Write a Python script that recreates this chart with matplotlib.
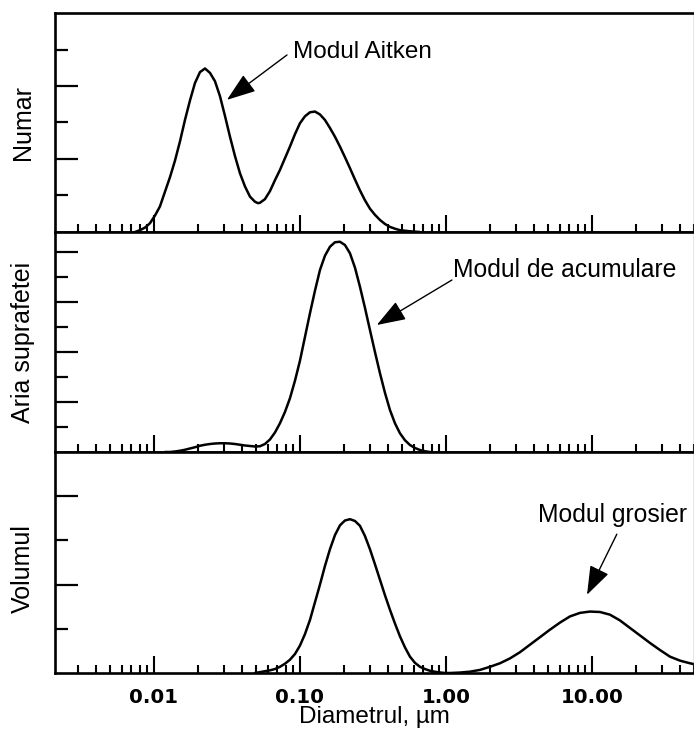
import matplotlib
matplotlib.use('Agg')
import matplotlib.pyplot as plt
from matplotlib.ticker import LogLocator, FixedLocator, FixedFormatter, NullFormatter

# ---- data (diameter in um, relative amount) ----
numar_d = [0.00741, 0.00802, 0.00868, 0.00939, 0.01016, 0.01099, 0.01189, 0.01287,
           0.01392, 0.01507, 0.01631, 0.01764, 0.01909, 0.02066, 0.02236, 0.02419,
           0.02618, 0.02833, 0.03065, 0.03317, 0.03589, 0.03882, 0.04200, 0.04545,
           0.04917, 0.05156, 0.05321, 0.05757, 0.06231, 0.06743, 0.07295, 0.07893,
           0.08541, 0.09243, 0.1, 0.1082, 0.1171, 0.1267, 0.1371, 0.1483, 0.1605,
           0.1737, 0.1879, 0.2033, 0.2200, 0.2380, 0.2576, 0.2787, 0.3016, 0.3264,
           0.3532, 0.3821, 0.4135, 0.4474, 0.4841, 0.5668, 0.6637]
numar_v = [0.0, 0.05, 0.12, 0.24, 0.45, 0.70, 1.10, 1.50, 1.95, 2.48,
           3.07, 3.60, 4.08, 4.38, 4.48, 4.36, 4.13, 3.72, 3.18, 2.61,
           2.08, 1.61, 1.25, 0.97, 0.83, 0.79,
           0.80, 0.90, 1.12, 1.42, 1.70, 2.02, 2.34, 2.68, 2.98, 3.17,
           3.28, 3.30, 3.22, 3.07, 2.85, 2.61, 2.34, 2.05, 1.75, 1.44,
           1.14, 0.87, 0.64, 0.47, 0.33, 0.22, 0.14, 0.09, 0.05, 0.02, 0.0]

aria_d = [0.01189, 0.01287, 0.01392, 0.01507, 0.01631, 0.01764, 0.01909, 0.02066,
          0.02236, 0.02419, 0.02618, 0.02833, 0.03065, 0.03317, 0.03589, 0.03882,
          0.04200, 0.04545, 0.04917, 0.05321, 0.05757, 0.06231, 0.06743, 0.07295,
          0.07893, 0.08541, 0.09243, 0.1, 0.1082, 0.1171, 0.1267, 0.1371, 0.1483,
          0.1605, 0.1737, 0.1879, 0.2033, 0.2200, 0.2380, 0.2576, 0.2787, 0.3016,
          0.3264, 0.3532, 0.3821, 0.4135, 0.4474, 0.4841, 0.5239, 0.5668, 0.6133,
          0.6637, 0.7181, 0.7771]
aria_v = [0.0, 0.0, 0.02, 0.05, 0.09, 0.14, 0.19, 0.25, 0.29, 0.32,
          0.34, 0.35, 0.35, 0.34, 0.32, 0.29, 0.26, 0.24, 0.22, 0.23,
          0.32, 0.50, 0.78, 1.15, 1.60, 2.15, 2.85, 3.65, 4.60, 5.55,
          6.45, 7.28, 7.85, 8.21, 8.39, 8.41, 8.28, 7.95, 7.38, 6.61,
          5.77, 4.88, 4.00, 3.15, 2.37, 1.68, 1.15, 0.75, 0.47, 0.28,
          0.16, 0.08, 0.03, 0.0]

volum_d = [0.04917, 0.05321, 0.05757, 0.06231, 0.06743, 0.07295, 0.07893, 0.08541,
           0.09243, 0.1, 0.1082, 0.1171, 0.1267, 0.1371, 0.1483, 0.1605, 0.1737,
           0.1879, 0.2033, 0.2200, 0.2380, 0.2576, 0.2787, 0.3016, 0.3264, 0.3532,
           0.3821, 0.4135, 0.4474, 0.4841, 0.5239, 0.5668, 0.6133, 0.6637, 0.7181,
           0.7771, 0.8678, 0.9844,
           1.065, 1.247, 1.460, 1.709, 2.001, 2.343, 2.744, 3.212, 3.761, 4.404,
           5.156, 6.037, 7.068, 8.276, 9.690, 11.35, 13.28, 15.55, 18.21, 21.32,
           24.97, 29.23, 34.22, 40.07, 46.92, 50.0]
volum_v = [0.0, 0.02, 0.04, 0.06, 0.09, 0.14, 0.21, 0.30, 0.43, 0.62,
           0.88, 1.20, 1.60, 2.00, 2.42, 2.80, 3.12, 3.34, 3.45, 3.48,
           3.44, 3.33, 3.10, 2.80, 2.46, 2.11, 1.76, 1.43, 1.12, 0.83,
           0.58, 0.37, 0.23, 0.14, 0.09, 0.05, 0.02, 0.0,
           0.0, 0.01, 0.03, 0.07, 0.14, 0.22, 0.33, 0.47, 0.64, 0.81,
           0.98, 1.14, 1.28, 1.36, 1.39, 1.38, 1.32, 1.19, 1.02, 0.85,
           0.68, 0.52, 0.37, 0.28, 0.22, 0.20]

panel_labels = ["Numar", "Aria suprafetei", "Volumul"]
panel_ymax = [6.0, 8.8, 5.0]
major_y = [[2, 4], [2, 4, 6, 8], [2, 4]]
minor_y = [[1, 3, 5], [1, 3, 5, 7], [1, 3]]
xtick_vals = [0.01, 0.1, 1.0, 10.0]
xtick_labels = ["0.01", "0.10", "1.00", "10.00"]
xlabel = "Diametrul, µm"
notes = ["Modul Aitken", "Modul de acumulare", "Modul grosier"]

W, H = 694, 729
fig = plt.figure(figsize=(W / 100, H / 100), dpi=100)
fig.patch.set_facecolor('white')
FONT = ['Liberation Sans', 'DejaVu Sans']

left = 55 / W
edges_px = [13, 232, 452, 673]
series = [(numar_d, numar_v), (aria_d, aria_v), (volum_d, volum_v)]
axes = []
for i in range(3):
    top = 1 - edges_px[i] / H
    bot = 1 - edges_px[i + 1] / H
    ax = fig.add_axes([left, bot, 1 - left, top - bot])
    ax.set_xscale('log')
    ax.set_xlim(0.0021, 50)
    ax.set_ylim(0, panel_ymax[i])
    d, v = series[i]
    ax.plot(d, v, color='black', lw=1.8, solid_joinstyle='round',
            solid_capstyle='round')
    for s in ax.spines.values():
        s.set_linewidth(1.9)
    ax.spines['right'].set_linewidth(1.0)
    ax.spines['right'].set_color('#888888')
    ax.xaxis.set_major_locator(FixedLocator(xtick_vals))
    ax.xaxis.set_minor_locator(LogLocator(base=10, subs=range(2, 10), numticks=20))
    ax.xaxis.set_minor_formatter(NullFormatter())
    ax.tick_params(axis='x', which='major', direction='in', length=12.5, width=1.5,
                   top=False, bottom=True, pad=10.5)
    ax.tick_params(axis='x', which='minor', direction='in', length=6, width=1.5,
                   top=False, bottom=True)
    if i == 2:
        ax.xaxis.set_major_formatter(FixedFormatter(xtick_labels))
        for lab in ax.get_xticklabels():
            lab.set_fontfamily('DejaVu Sans')
            lab.set_fontweight('bold')
            lab.set_fontsize(14.2)
    else:
        ax.xaxis.set_major_formatter(NullFormatter())
    ax.yaxis.set_major_locator(FixedLocator(major_y[i]))
    ax.yaxis.set_minor_locator(FixedLocator(minor_y[i]))
    ax.yaxis.set_major_formatter(NullFormatter())
    ax.yaxis.set_minor_formatter(NullFormatter())
    ax.tick_params(axis='y', which='major', direction='in', length=16.5, width=1.6,
                   left=True, right=False)
    ax.tick_params(axis='y', which='minor', direction='in', length=9, width=1.6,
                   left=True, right=False)
    axes.append(ax)
    yc = 1 - (edges_px[i] + edges_px[i + 1]) / 2 / H
    fig.text(23 / W, yc + (0.0 if i < 2 else -0.008), panel_labels[i], rotation=90,
             ha='center', va='center', fontsize=18, family=FONT)

arrow = dict(arrowstyle='-|>,head_length=0.9,head_width=0.32', mutation_scale=20,
             lw=1.0, color='black', shrinkA=0, shrinkB=0)

# Aitken
axes[0].annotate('', xy=(0.0316, 3.62), xytext=(0.0815, 4.85), arrowprops=arrow)
axes[0].text(0.0895, 4.77, notes[0], ha='left', va='baseline', fontsize=17.5,
             family=FONT)
# acumulare
axes[1].annotate('', xy=(0.336, 5.08), xytext=(1.099, 6.88), arrowprops=arrow)
axes[1].text(1.117, 7.0, notes[1], ha='left', va='baseline', fontsize=17.8,
             family=FONT)
# grosier
axes[2].annotate('', xy=(9.25, 1.77), xytext=(14.8, 3.14), arrowprops=arrow)
axes[2].text(4.27, 3.41, notes[2], ha='left', va='baseline', fontsize=17.8,
             family=FONT, clip_on=False)

fig.text(374.5 / W, 1 - 717 / H, xlabel, ha='center', va='center', fontsize=17.5,
         family=FONT)

fig.savefig('out.png', dpi=100)
